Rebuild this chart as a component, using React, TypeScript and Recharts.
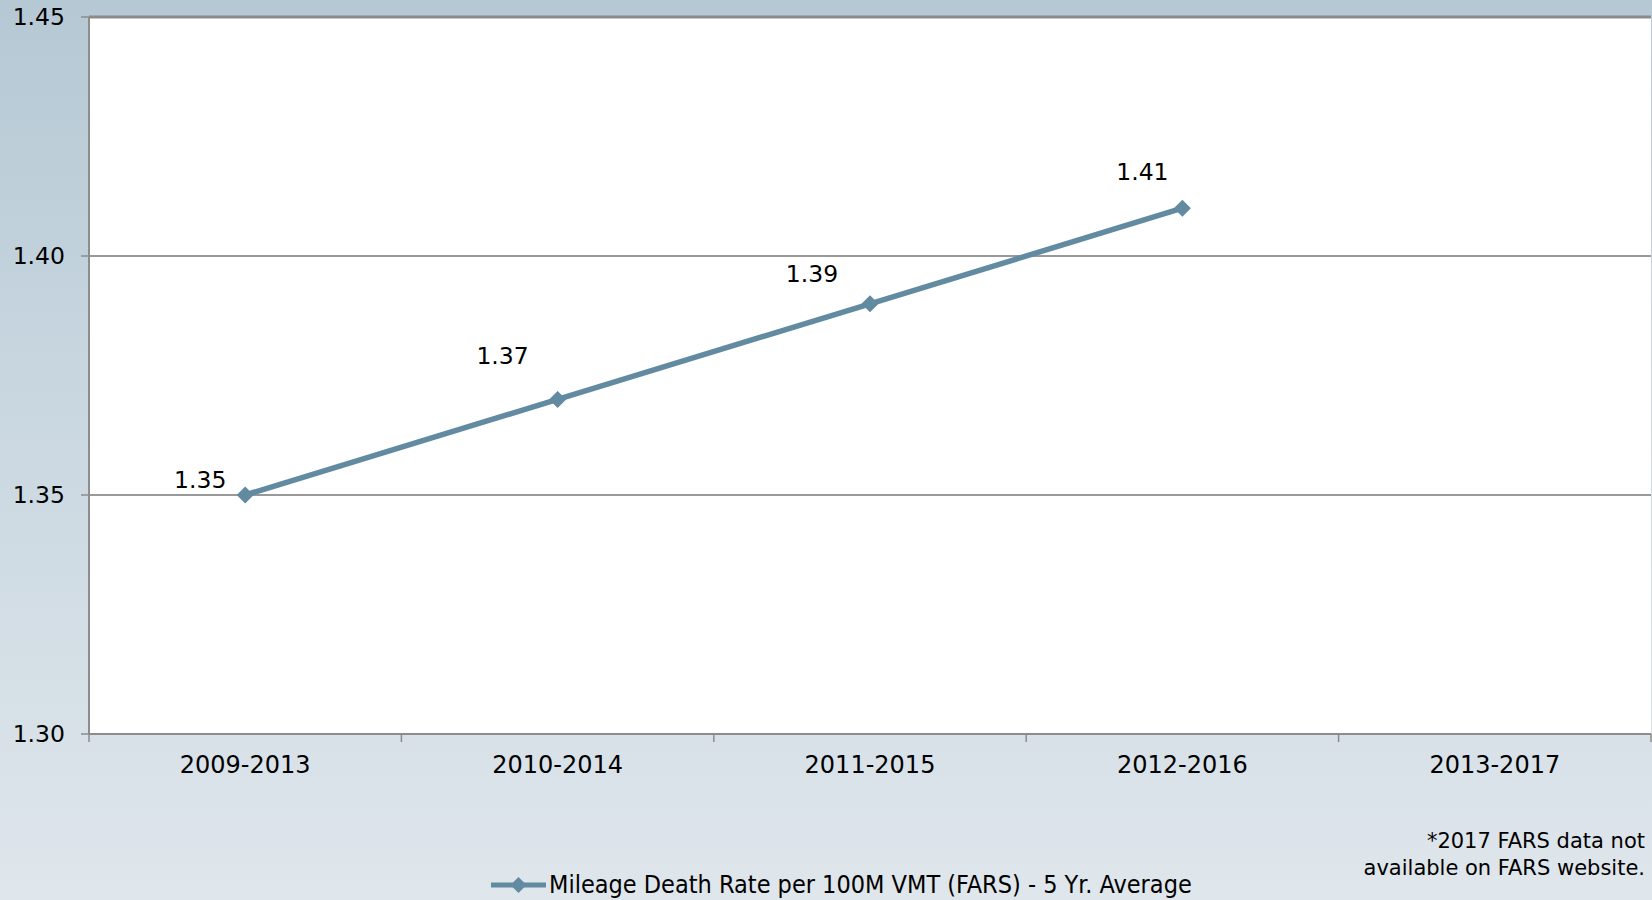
import React from 'react';
import { LineChart, Line, XAxis, YAxis, CartesianGrid, ReferenceLine } from 'recharts';

const categories = ['2009-2013', '2010-2014', '2011-2015', '2012-2016', '2013-2017'];
const deathRate: (number | null)[] = [1.35, 1.37, 1.39, 1.41, null];
const yTicks = [1.3, 1.35, 1.4, 1.45];
const boundaryTicks = [-0.5, 0.5, 1.5, 2.5, 3.5, 4.5];
const centerTicks = [0, 1, 2, 3, 4];
const seriesName = 'Mileage Death Rate per 100M VMT (FARS) - 5 Yr. Average';
const footnote = ['*2017 FARS data not', 'available on FARS website.'];

// label placement offsets (styling only)
const labelOffsets = [
  { dx: -45, dy: -15 },
  { dx: -55, dy: -43 },
  { dx: -58, dy: -30 },
  { dx: -40, dy: -36 },
];

const data = categories.map((c, i) => ({ idx: i, cat: c, rate: deathRate[i] }));

const LINE_COLOR = '#628aa0';
const FONT = '"DejaVu Sans", sans-serif';

const Diamond = (props: any) => {
  const { cx, cy } = props;
  if (cx == null || cy == null || props.value == null) return null;
  const r = 8.5;
  return <path d={`M${cx},${cy - r}L${cx + r},${cy}L${cx},${cy + r}L${cx - r},${cy}Z`} fill={LINE_COLOR} />;
};

const DataLabel = (props: any) => {
  const { x, y, value, index } = props;
  if (value == null) return null;
  const o = labelOffsets[index] || { dx: -45, dy: -20 };
  return (
    <text x={x + o.dx} y={y + o.dy} textAnchor="middle" dominantBaseline="central" fontFamily={FONT} fontSize={23.5} fill="#000">
      {Number(value).toFixed(2)}
    </text>
  );
};

const CenterTick = (props: any) => {
  const { x, y, payload } = props;
  return (
    <text x={x} y={y + 13} textAnchor="middle" dominantBaseline="central" fontFamily={FONT} fontSize={24} fill="#000">
      {categories[payload.value]}
    </text>
  );
};

const EmptyTick = () => <g />;

export default function App() {
  return (
    <div
      style={{
        position: 'absolute',
        left: 0,
        top: 0,
        width: 1652,
        height: 900,
        overflow: 'hidden',
        background: 'linear-gradient(to bottom, #b5c8d4 0%, #c9d7e0 45%, #dfe6ec 100%)',
      }}
    >
      <LineChart width={1652} height={900} data={data} margin={{ top: 17, right: 1, bottom: 126, left: 0 }}>
        <CartesianGrid horizontal={false} vertical={false} fill="#ffffff" />
        <XAxis
          xAxisId="b"
          dataKey="idx"
          type="number"
          domain={[-0.5, 4.5]}
          ticks={boundaryTicks}
          tick={<EmptyTick />}
          tickSize={8}
          interval={0}
          axisLine={{ stroke: '#8c8c8c', strokeWidth: 2 }}
          tickLine={{ stroke: '#8c8c8c', strokeWidth: 1.5 }}
          height={10}
        />
        <XAxis
          xAxisId="c"
          dataKey="idx"
          type="number"
          domain={[-0.5, 4.5]}
          ticks={centerTicks}
          interval={0}
          axisLine={false}
          tickLine={false}
          tick={<CenterTick />}
          height={30}
        />
        <YAxis
          domain={[1.3, 1.45]}
          ticks={yTicks}
          width={89}
          tickSize={8}
          tickMargin={16}
          axisLine={{ stroke: '#8c8c8c', strokeWidth: 2 }}
          tickLine={{ stroke: '#8c8c8c', strokeWidth: 1.5 }}
          tick={{ fontFamily: FONT, fontSize: 23.5, fill: '#000' }}
          tickFormatter={(v: number) => v.toFixed(2)}
          interval={0}
          allowDataOverflow
        />
        <ReferenceLine xAxisId="c" y={1.35} stroke="#999999" strokeWidth={2} />
        <ReferenceLine xAxisId="c" y={1.4} stroke="#999999" strokeWidth={2} />
        <ReferenceLine xAxisId="c" y={1.45} stroke="#8a8a8a" strokeWidth={3} />
        <Line
          xAxisId="c"
          type="linear"
          dataKey="rate"
          name={seriesName}
          stroke={LINE_COLOR}
          strokeWidth={5.5}
          dot={<Diamond />}
          activeDot={false}
          label={<DataLabel />}
          isAnimationActive={false}
          connectNulls={false}
        />
      </LineChart>
      <div style={{ position: 'absolute', left: 490, top: 870, display: 'flex', alignItems: 'center' }}>
        <svg width={58} height={20}>
          <line x1={1} y1={10} x2={56} y2={10} stroke={LINE_COLOR} strokeWidth={5} />
          <path d="M28.5,2L36.5,10L28.5,18L20.5,10Z" fill={LINE_COLOR} />
        </svg>
        <span style={{ fontFamily: '"Liberation Sans Narrow", "DejaVu Sans Condensed", sans-serif', fontSize: 25, color: '#000', marginLeft: 1, whiteSpace: 'nowrap' }}>
          {seriesName}
        </span>
      </div>
      <div
        style={{
          position: 'absolute',
          right: 7,
          top: 828,
          textAlign: 'right',
          fontFamily: FONT,
          fontSize: 21,
          lineHeight: '27px',
          color: '#000',
        }}
      >
        <div>{footnote[0]}</div>
        <div>{footnote[1]}</div>
      </div>
    </div>
  );
}
